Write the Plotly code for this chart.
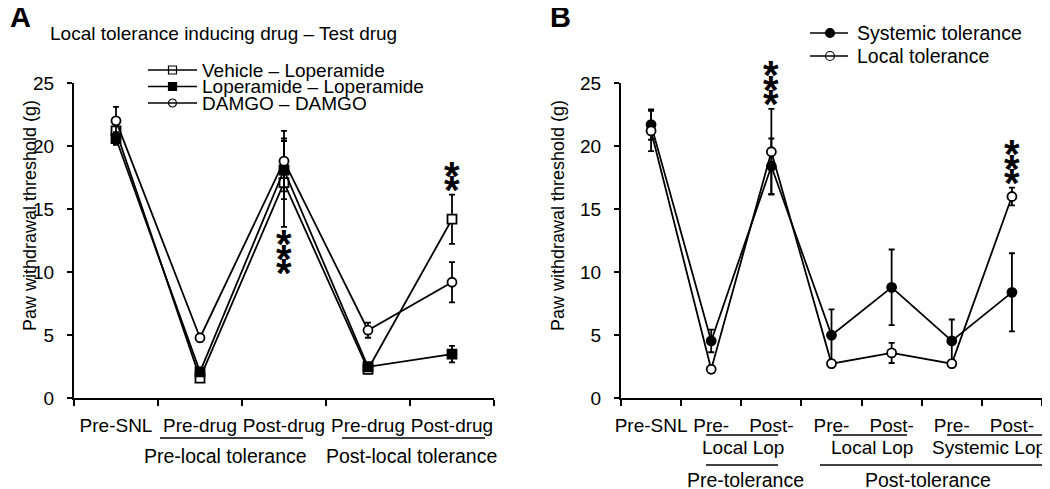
import plotly.graph_objects as go

# page body has an 8px margin, so the figure is shrunk by that much and
# every layout position below is given in window pixels
OFF = 8
W, H = 1050, 489
FW, FH = W - OFF, H - OFF
FONT = "Liberation Sans, Arial, sans-serif"

# Panel A: local tolerance inducing drug - test drug
a_labels = ["Pre-SNL", "Pre-drug", "Post-drug", "Pre-drug", "Post-drug"]
a_names = ["Vehicle – Loperamide", "Loperamide – Loperamide", "DAMGO – DAMGO"]
a_vehicle = [21.2, 1.6, 17.1, 2.3, 14.2]
a_vehicle_err = [0.8, 0.3, 3.5, 0.3, 1.95]
a_loperamide = [20.6, 2.1, 18.1, 2.5, 3.5]
a_loperamide_err = [0.5, 0.3, 2.3, 0.3, 0.65]
a_damgo = [22.0, 4.8, 18.8, 5.4, 9.2]
a_damgo_err = [1.1, 0.3, 2.4, 0.6, 1.6]
a_groups = ["Pre-local tolerance", "Post-local tolerance"]

# Panel B: systemic vs local tolerance
b_labels = ["Pre-SNL", "Pre-", "Post-", "Pre-", "Post-", "Pre-", "Post-"]
b_names = ["Systemic tolerance", "Local tolerance"]
b_systemic = [21.7, 4.55, 18.4, 5.0, 8.8, 4.55, 8.4]
b_systemic_err = [1.2, 0.9, 2.2, 2.05, 3.0, 1.7, 3.1]
b_local = [21.2, 2.3, 19.55, 2.75, 3.6, 2.75, 16.0]
b_local_err = [1.6, 0.3, 3.4, 0.3, 0.8, 0.3, 0.7]
b_sublabels = ["Local Lop", "Local Lop", "Systemic Lop"]
b_groups = ["Pre-tolerance", "Post-tolerance"]

y_ticks = [0, 5, 10, 15, 20, 25]

# significance stars: (panel, category index, number of stars, side)
stars = [("A", 2, 3, "below"), ("A", 4, 2, "above"),
         ("B", 2, 3, "above"), ("B", 6, 3, "above")]

fig = go.Figure()


def add_series(y, err, symbol, fill, xa, ya):
    fig.add_trace(go.Scatter(
        x=list(range(len(y))), y=y, mode="lines+markers",
        line=dict(color="black", width=1.8),
        marker=dict(symbol=symbol, size=9, color=fill, line=dict(color="black", width=1.8)),
        error_y=dict(type="data", array=err, color="black", thickness=1.8, width=3),
        xaxis=xa, yaxis=ya, showlegend=False, cliponaxis=False,
    ))


add_series(a_vehicle, a_vehicle_err, "square", "white", "x", "y")
add_series(a_loperamide, a_loperamide_err, "square", "black", "x", "y")
add_series(a_damgo, a_damgo_err, "circle", "white", "x", "y")
add_series(b_systemic, b_systemic_err, "circle", "black", "x2", "y2")
add_series(b_local, b_local_err, "circle", "white", "x2", "y2")

annotations = []
shapes = []


def text(x, y, s, size=19, xanchor="center", **kw):
    annotations.append(dict(x=x, y=y, xref="x3", yref="y3", text=s, showarrow=False,
                            xanchor=xanchor, yanchor="middle",
                            font=dict(family=FONT, size=size, color="black"), **kw))


def hline(x0, x1, y, width=1.5):
    shapes.append(dict(type="line", xref="x3", yref="y3", x0=x0, x1=x1, y0=y, y1=y,
                       line=dict(color="black", width=width)))


# manual legends (pixel overlay)
leg_a = [("square", "white"), ("square", "black"), ("circle", "white")]
for i, (name, (sym, fill)) in enumerate(zip(a_names, leg_a)):
    yy = 70 + i * 16.5
    hline(148, 197, yy)
    fig.add_trace(go.Scatter(x=[172.5], y=[yy], mode="markers", xaxis="x3", yaxis="y3",
                             marker=dict(symbol=sym, size=8, color=fill,
                                         line=dict(color="black", width=1.2)),
                             showlegend=False, hoverinfo="skip"))
    text(200, yy, name, size=19, xanchor="left")
text(48, 33, "Local tolerance inducing drug – Test drug", size=19, xanchor="left")

leg_b = [("circle", "black"), ("circle", "white")]
for i, (name, (sym, fill)) in enumerate(zip(b_names, leg_b)):
    yy = 33 + i * 23
    hline(810, 848, yy)
    fig.add_trace(go.Scatter(x=[830], y=[yy], mode="markers", xaxis="x3", yaxis="y3",
                             marker=dict(symbol=sym, size=9, color=fill,
                                         line=dict(color="black", width=1.2)),
                             showlegend=False, hoverinfo="skip"))
    text(855, yy, name, size=19.5, xanchor="left")

# panel letters and y titles
text(20, 17, "<b>A</b>", size=29)
text(560, 17, "<b>B</b>", size=29)
text(30, 216, "Paw withdrawal threshold (g)", size=18, textangle=-90)
text(558, 216, "Paw withdrawal threshold (g)", size=18, textangle=-90)

# grouping rows under the x axes
hline(160, 303, 438)
hline(342, 485, 438)
text(225, 456, a_groups[0], size=19.5)
text(411, 456, a_groups[1], size=19.5)

for (x0, x1), cx, s in zip([(706, 778), (833, 907), (947, 1042)], [743, 872, 989], b_sublabels):
    hline(x0, x1, 435)
    text(cx, 447, s)
hline(706, 778, 465)
hline(820, 1042, 465)
text(745, 480, b_groups[0], size=19.5)
text(928, 480, b_groups[1], size=19.5)

# stars
series = {"A": [(a_vehicle, a_vehicle_err), (a_loperamide, a_loperamide_err), (a_damgo, a_damgo_err)],
          "B": [(b_systemic, b_systemic_err), (b_local, b_local_err)]}
STAR_FS = 40
for panel, idx, n, side in stars:
    if side == "above":
        edge = max(v[idx] + e[idx] for v, e in series[panel])
        sign = 1
    else:
        edge = min(v[idx] - e[idx] for v, e in series[panel])
        sign = -1
    xa, ya = ("x", "y") if panel == "A" else ("x2", "y2")
    for k in range(n):
        annotations.append(dict(
            x=idx, y=edge, xref=xa, yref=ya, text="<b>*</b>", showarrow=False,
            xanchor="center", yanchor="middle",
            yshift=sign * (11 + k * 14.5) - 0.24 * STAR_FS + 3,
            font=dict(family=FONT, size=STAR_FS, color="black"),
        ))


def px_x(x0, x1):
    return [(x0 - OFF) / FW, (x1 - OFF) / FW]


y_dom = [(FH - (398.3 - OFF)) / FH, (FH - (83 - OFF)) / FH]
axis_common = dict(showline=True, linecolor="black", linewidth=2, showgrid=False,
                   zeroline=False, tickfont=dict(family=FONT, size=19, color="black"))


def x_axis(labels, domain, anchor):
    n = len(labels)
    return dict(domain=domain, anchor=anchor, range=[-0.5, n - 0.5], tickmode="array",
                tickvals=list(range(n)), ticktext=labels, ticks="outside", ticklen=5,
                tickcolor="rgba(0,0,0,0)", ticklabelstandoff=4,
                minor=dict(tickmode="array", tickvals=[i - 0.5 for i in range(n + 1)],
                           ticks="outside", ticklen=6, tickwidth=2, tickcolor="black",
                           showgrid=False),
                **axis_common)


def y_axis(anchor):
    return dict(domain=y_dom, anchor=anchor, range=[0, 25], tickmode="array",
                tickvals=y_ticks, ticks="outside", ticklen=5, tickwidth=2,
                tickcolor="black", ticklabelstandoff=9, **axis_common)


fig.update_layout(
    width=FW, height=FH, margin=dict(l=0, r=0, t=0, b=0, autoexpand=False),
    paper_bgcolor="white", plot_bgcolor="rgba(0,0,0,0)", showlegend=False,
    xaxis=x_axis(a_labels, px_x(74, 494), "y"),
    yaxis=y_axis("x"),
    xaxis2=x_axis(b_labels, px_x(621, 1042), "y2"),
    yaxis2=y_axis("x2"),
    xaxis3=dict(domain=[0, 1], range=[OFF, W], visible=False, anchor="y3",
                fixedrange=True, automargin=False),
    yaxis3=dict(domain=[0, 1], range=[H, OFF], visible=False, anchor="x3",
                fixedrange=True, automargin=False),
    annotations=annotations, shapes=shapes,
    font=dict(family=FONT, color="black"),
)

fig.write_html("out.html")
